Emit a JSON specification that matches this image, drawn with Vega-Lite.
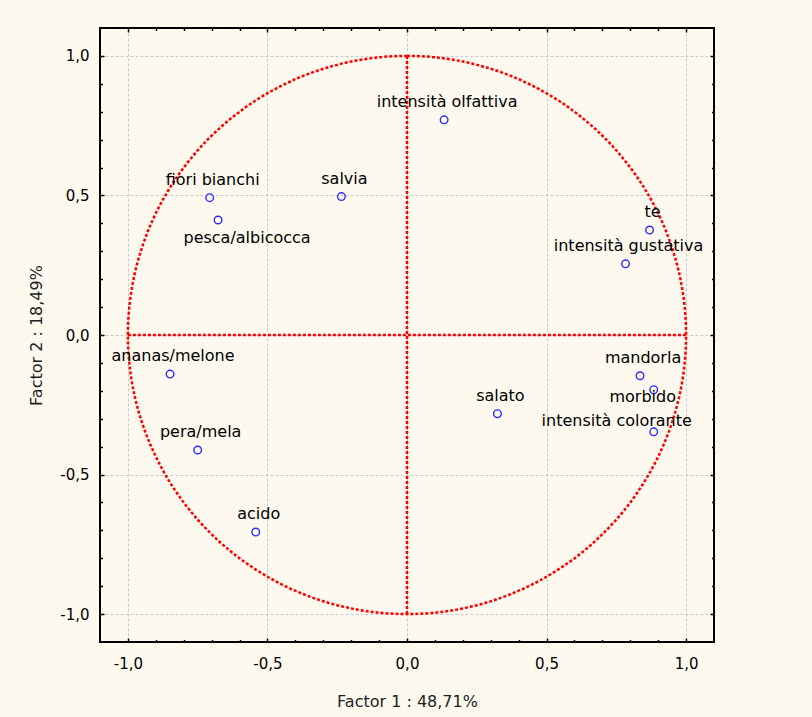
{
  "$schema": "https://vega.github.io/schema/vega-lite/v6.json",
  "width": 614,
  "height": 614,
  "autosize": {"type": "none"},
  "padding": {"left": 100, "top": 28, "right": 98, "bottom": 75},
  "background": "#FEF9EE",
  "config": {
    "view": {"fill": "white", "stroke": "black", "strokeWidth": 2},
    "axis": {
      "domain": false,
      "labelFont": "DejaVu Sans",
      "labelFontSize": 15,
      "labelColor": "black",
      "titleFont": "DejaVu Sans",
      "titleFontSize": 16,
      "titleFontWeight": "normal",
      "titleColor": "#222222",
      "tickColor": "black",
      "tickWidth": 1.5,
      "grid": false
    }
  },
  "datasets": {
    "vars": [
      {"label": "intensità olfattiva", "f1": 0.133, "f2": 0.771},
      {"label": "salvia", "f1": -0.235, "f2": 0.496},
      {"label": "fiori bianchi", "f1": -0.707, "f2": 0.492},
      {"label": "pesca/albicocca", "f1": -0.677, "f2": 0.412},
      {"label": "te", "f1": 0.869, "f2": 0.376},
      {"label": "intensità gustativa", "f1": 0.783, "f2": 0.255},
      {"label": "mandorla", "f1": 0.835, "f2": -0.146},
      {"label": "morbido", "f1": 0.884, "f2": -0.196},
      {"label": "intensità colorante", "f1": 0.884, "f2": -0.347},
      {"label": "salato", "f1": 0.324, "f2": -0.282},
      {"label": "ananas/melone", "f1": -0.849, "f2": -0.14},
      {"label": "pera/mela", "f1": -0.75, "f2": -0.412},
      {"label": "acido", "f1": -0.542, "f2": -0.706}
    ],
    "lines": [
      {"xa": 0, "xb": 0, "ya": -1, "yb": 1},
      {"xa": -1, "xb": 1, "ya": 0, "yb": 0}
    ],
    "circle": [{"r": 1}]
  },
  "resolve": {"axis": {"x": "independent", "y": "independent"}},
  "layer": [
    {
      "data": {"name": "lines"},
      "mark": {"type": "rule", "color": "#FF0000", "strokeWidth": 2.5, "strokeDash": [3, 2]},
      "encoding": {
        "x": {"field": "xa", "type": "quantitative", "scale": {"domain": [-1.1, 1.1], "nice": false, "zero": false},
          "axis": {"orient": "top", "values": [-0.9,-0.8,-0.7,-0.6,-0.4,-0.3,-0.2,-0.1,0.1,0.2,0.3,0.4,0.6,0.7,0.8,0.9], "tickSize": -2.5, "labels": false, "title": null}},
        "x2": {"field": "xb"},
        "y": {"field": "ya", "type": "quantitative", "scale": {"domain": [-1.1, 1.1], "nice": false, "zero": false},
          "axis": {"orient": "right", "values": [-0.9,-0.8,-0.7,-0.6,-0.4,-0.3,-0.2,-0.1,0.1,0.2,0.3,0.4,0.6,0.7,0.8,0.9], "tickSize": -2.5, "labels": false, "title": null}},
        "y2": {"field": "yb"}
      }
    },
    {
      "data": {"name": "circle"},
      "mark": {"type": "arc", "theta": 0, "theta2": 6.2832, "filled": false, "fill": null, "stroke": "#FF0000", "strokeWidth": 2.5, "strokeDash": [3, 2]},
      "encoding": {
        "radius": {"field": "r", "type": "quantitative", "scale": {"type": "linear", "domain": [0, 1.1], "range": [0, 307], "zero": true}}
      }
    },
    {
      "data": {"name": "vars"},
      "mark": {"type": "point", "shape": "circle", "filled": false, "color": "#2B2BFF", "size": 58, "strokeWidth": 1.4, "opacity": 1},
      "encoding": {
        "x": {"field": "f1", "type": "quantitative", "scale": {"domain": [-1.1, 1.1], "nice": false, "zero": false},
          "axis": {"orient": "bottom", "values": [-1, -0.5, 0, 0.5, 1], "tickSize": -4, "labelPadding": 18, "grid": true, "gridColor": "#C8C8C8", "gridDash": [3, 2], "gridWidth": 1,
            "labelExpr": "replace(replace(format(datum.value, '.1f'), '.', ','), '\u2212', '-')", "title": "Factor 1 : 48,71%", "titlePadding": 22}},
        "y": {"field": "f2", "type": "quantitative", "scale": {"domain": [-1.1, 1.1], "nice": false, "zero": false},
          "axis": {"orient": "left", "values": [-1, -0.5, 0, 0.5, 1], "tickSize": -4, "labelPadding": 15, "grid": true, "gridColor": "#C8C8C8", "gridDash": [3, 2], "gridWidth": 1,
            "labelExpr": "replace(replace(format(datum.value, '.1f'), '.', ','), '\u2212', '-')", "title": "Factor 2 : 18,49%", "titlePadding": 15}}
      }
    },
    {
      "data": {"name": "vars"},
      "transform": [{"filter": {"not": {"field": "label", "oneOf": ["pesca/albicocca", "morbido", "intensità colorante"]}}}],
      "mark": {"type": "text", "font": "DejaVu Sans", "fontSize": 16, "color": "black", "align": "center", "baseline": "alphabetic", "dx": 3, "dy": -13},
      "encoding": {
        "text": {"field": "label"},
        "x": {"field": "f1", "type": "quantitative", "scale": {"domain": [-1.1, 1.1], "nice": false, "zero": false},
          "axis": {"orient": "bottom", "values": [-0.9,-0.8,-0.7,-0.6,-0.4,-0.3,-0.2,-0.1,0.1,0.2,0.3,0.4,0.6,0.7,0.8,0.9], "tickSize": -2.5, "labels": false, "title": null}},
        "y": {"field": "f2", "type": "quantitative", "scale": {"domain": [-1.1, 1.1], "nice": false, "zero": false},
          "axis": {"orient": "left", "values": [-0.9,-0.8,-0.7,-0.6,-0.4,-0.3,-0.2,-0.1,0.1,0.2,0.3,0.4,0.6,0.7,0.8,0.9], "tickSize": -2.5, "labels": false, "title": null}}
      }
    },
    {
      "data": {"name": "vars"},
      "transform": [{"filter": {"field": "label", "equal": "pesca/albicocca"}}],
      "mark": {"type": "text", "font": "DejaVu Sans", "fontSize": 16, "color": "black", "align": "center", "baseline": "alphabetic", "dx": 29, "dy": 23},
      "encoding": {
        "text": {"field": "label"},
        "x": {"field": "f1", "type": "quantitative", "scale": {"domain": [-1.1, 1.1], "nice": false, "zero": false},
          "axis": {"orient": "top", "values": [-1, -0.5, 0, 0.5, 1], "tickSize": -4, "labels": false, "title": null}},
        "y": {"field": "f2", "type": "quantitative", "scale": {"domain": [-1.1, 1.1], "nice": false, "zero": false},
          "axis": {"orient": "right", "values": [-1, -0.5, 0, 0.5, 1], "tickSize": -4, "labels": false, "title": null}}
      }
    },
    {
      "data": {"name": "vars"},
      "transform": [{"filter": {"field": "label", "equal": "morbido"}}],
      "mark": {"type": "text", "font": "DejaVu Sans", "fontSize": 16, "color": "black", "align": "center", "baseline": "alphabetic", "dx": -11, "dy": 12},
      "encoding": {
        "text": {"field": "label"},
        "x": {"field": "f1", "type": "quantitative", "scale": {"domain": [-1.1, 1.1], "nice": false, "zero": false}, "axis": null},
        "y": {"field": "f2", "type": "quantitative", "scale": {"domain": [-1.1, 1.1], "nice": false, "zero": false}, "axis": null}
      }
    },
    {
      "data": {"name": "vars"},
      "transform": [{"filter": {"field": "label", "equal": "intensità colorante"}}],
      "mark": {"type": "text", "font": "DejaVu Sans", "fontSize": 16, "color": "black", "align": "center", "baseline": "alphabetic", "dx": -37, "dy": -6},
      "encoding": {
        "text": {"field": "label"},
        "x": {"field": "f1", "type": "quantitative", "scale": {"domain": [-1.1, 1.1], "nice": false, "zero": false}, "axis": null},
        "y": {"field": "f2", "type": "quantitative", "scale": {"domain": [-1.1, 1.1], "nice": false, "zero": false}, "axis": null}
      }
    }
  ]
}
